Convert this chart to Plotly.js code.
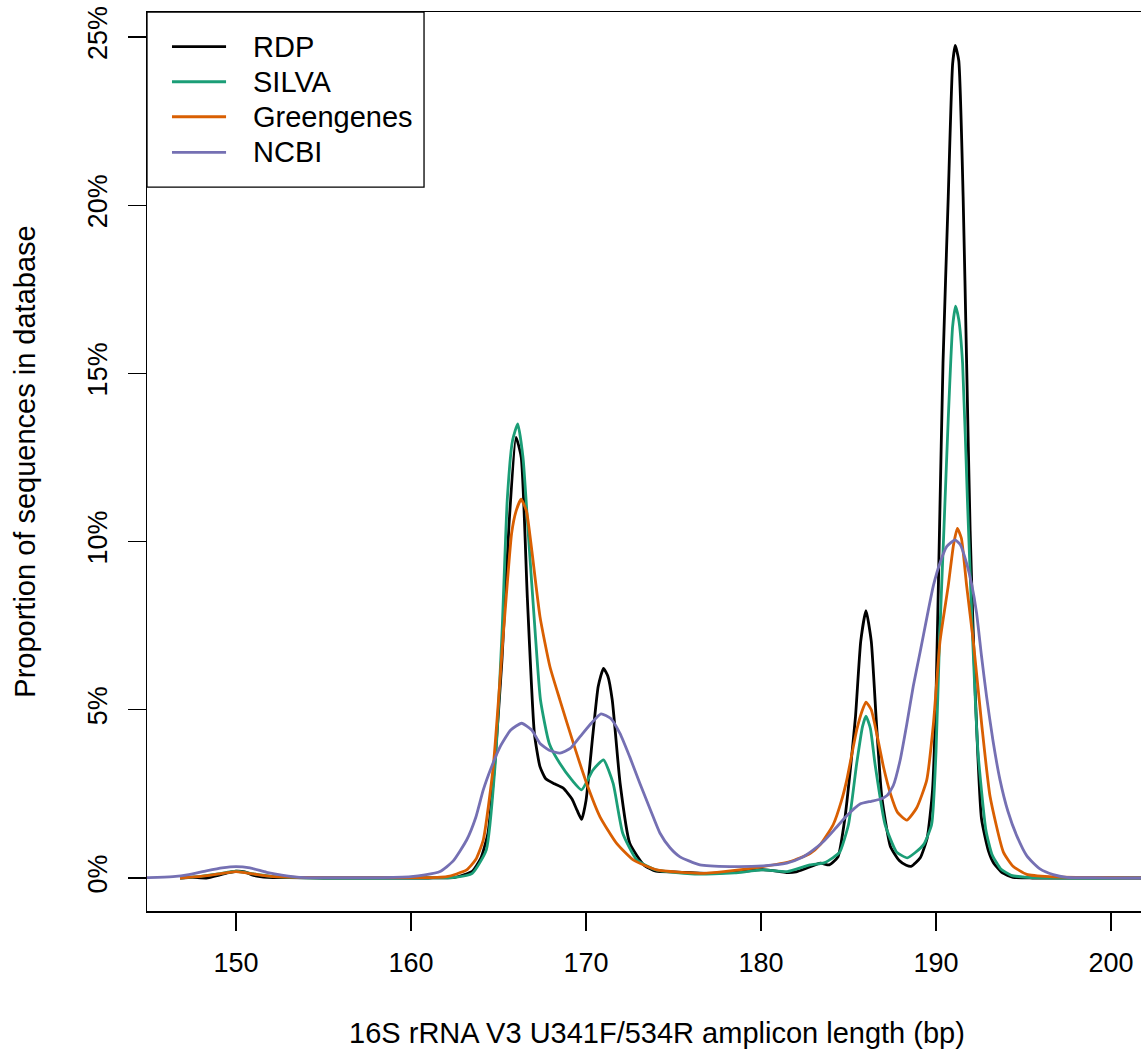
<!DOCTYPE html>
<html>
<head>
<meta charset="utf-8">
<script src="https://cdn.plot.ly/plotly-3.0.1.min.js"></script>
<style>
html, body { margin: 0; padding: 0; overflow: hidden; background: #fff; }
#chart { width: 1167px; height: 1051px; }
</style>
</head>
<body>
<div id="chart"></div>
<script>
// Series names and colours
const seriesNames = ["RDP", "SILVA", "Greengenes", "NCBI"];
const seriesColors = ["#000000", "#1B9E77", "#D95F02", "#7570B3"];

// Amplicon length (bp) and proportion (%)
const rdpX = [146.8,147.5,148.3,149,149.5,150,150.5,151,151.8,153,155,158,161,162.5,163.5,164,164.4,164.8,165.2,165.6,166.0,166.3,166.65,167.05,167.37,167.7,168.2,168.7,169.2,169.5,169.75,170.0,170.4,170.7,171.0,171.25,171.5,171.95,172.5,173.3,174,175,176,177,178,179,180,181,181.5,182,182.6,183.4,183.9,184.4,184.8,185.1,185.4,185.7,186.0,186.3,186.6,186.9,187.4,187.9,188.3,188.6,189.1,189.5,189.8,190.0,190.2,190.4,190.7,190.95,191.1,191.3,191.55,191.75,191.95,192.25,192.6,193.0,193.3,193.8,194.4,195.5,197,200,203];
const rdpY = [0,0.02,0.0,0.08,0.15,0.2,0.18,0.08,0.02,0.01,0,0,0,0.02,0.2,0.6,1.34,3.5,6.5,10.5,13.1,12.5,8.3,4.3,3.31,2.95,2.8,2.67,2.35,2.0,1.74,2.3,4.3,5.7,6.23,6.0,5.29,2.81,1.03,0.39,0.2,0.18,0.16,0.14,0.16,0.2,0.25,0.2,0.16,0.18,0.29,0.44,0.39,0.63,1.8,3.2,4.8,7.04,7.95,7.04,4.57,2.42,0.93,0.52,0.38,0.35,0.6,1.2,2.6,5.39,10.34,15.3,20.25,24.2,24.75,24.3,20.25,15.3,10.34,5.39,1.76,0.8,0.44,0.15,0.02,0.0,0,0,0];

const silvaX = [146.8,148,149,150,151,152,153,155,158,161,162.5,163.5,164.3,164.8,165.2,165.5,165.8,166.1,166.4,166.7,167.1,167.4,167.9,168.5,169.2,169.75,170.4,171.0,171.55,172.1,172.9,174,176,177.3,178.5,180.1,181.5,182.8,183.6,184.1,184.5,185.0,185.47,185.8,186.0,186.25,186.51,187.09,187.75,188.36,188.8,189.3,189.75,190.0,190.2,190.45,190.7,190.95,191.12,191.3,191.52,191.8,192.1,192.4,192.85,193.2,193.7,194.3,195.2,197,200,203];
const silvaY = [0,0.05,0.12,0.2,0.12,0.05,0.02,0,0,0,0.02,0.14,0.83,3.31,7.27,11.24,13.0,13.5,12.5,10.25,7.27,5.29,4.0,3.41,2.91,2.62,3.21,3.51,2.81,1.33,0.54,0.24,0.12,0.12,0.15,0.24,0.19,0.39,0.45,0.6,0.77,1.59,3.41,4.5,4.81,4.45,3.41,1.59,0.77,0.6,0.75,1.0,1.59,3.74,7.04,10.34,13.65,16.4,17.0,16.6,15.3,11.17,7.04,3.74,1.43,0.7,0.27,0.08,0.02,0,0,0];

const ggX = [146.8,148,149,150,151,152,154,157,160,161.5,162.04,162.6,163.18,163.7,164.13,164.7,165.28,165.75,166.0,166.29,166.6,166.9,167.37,167.94,168.51,169.28,170.04,170.8,171.75,172.7,174.04,176.5,178,180.1,181.66,182.8,183.4,184.13,184.6,184.9,185.47,185.8,186.0,186.3,186.61,187.0,187.4,187.8,188.33,188.9,189.47,189.85,190.23,190.7,191.0,191.22,191.45,191.75,192.13,192.61,193.09,193.85,194.4,195.18,196.5,198,200,203];
const ggY = [0,0.05,0.12,0.19,0.12,0.05,0.02,0.01,0.01,0.02,0.04,0.12,0.24,0.55,1.13,3.31,7.27,10.25,10.9,11.26,10.9,9.75,7.77,6.28,5.29,4.0,2.81,1.82,1.03,0.54,0.24,0.14,0.2,0.34,0.49,0.73,1.0,1.59,2.3,2.91,4.4,5.0,5.23,5.0,4.3,3.3,2.5,1.95,1.72,2.09,2.91,4.57,7.04,8.69,9.9,10.39,10.1,8.69,7.04,4.57,2.42,0.77,0.35,0.11,0.04,0.02,0.01,0];

const ncbiX = [144,145,146.4,147.3,148.3,149.2,150.0,150.8,151.75,152.7,153.66,155,158,160,160.8,161.66,162.4,163.18,163.7,164.13,164.6,165.09,165.7,166.32,166.9,167.37,167.9,168.51,169.1,169.66,170.3,170.86,171.4,171.94,172.5,173.08,173.7,174.23,174.8,175.37,176.51,178.23,180.13,181.47,182.3,182.9,183.6,184.3,184.9,185.66,186.3,186.8,187.2,187.56,187.95,188.33,188.7,189.09,189.5,189.85,190.25,190.61,191.09,191.4,191.75,192.05,192.32,192.6,192.89,193.25,193.66,194.1,194.61,195.2,195.94,196.7,197.47,199,201,203];
const ncbiY = [0,0.01,0.04,0.1,0.21,0.3,0.34,0.3,0.17,0.08,0.02,0.01,0.01,0.04,0.09,0.19,0.5,1.13,1.8,2.62,3.3,3.9,4.4,4.6,4.4,4.0,3.8,3.71,3.85,4.2,4.6,4.88,4.75,4.3,3.6,2.81,2.0,1.33,0.9,0.63,0.39,0.34,0.36,0.44,0.6,0.8,1.1,1.5,1.85,2.2,2.28,2.34,2.45,2.75,3.5,4.57,5.7,6.71,7.8,8.69,9.4,9.85,10.05,9.9,9.35,8.7,7.87,6.6,5.39,4.1,2.91,2.0,1.26,0.65,0.27,0.1,0.02,0.01,0,0];

// Axis ticks
const xTicks = [150, 160, 170, 180, 190, 200];
const yTicks = [0, 5, 10, 15, 20, 25];
const yTickLabels = ["0%", "5%", "10%", "15%", "20%", "25%"];

const xs = [rdpX, silvaX, ggX, ncbiX];
const ys = [rdpY, silvaY, ggY, ncbiY];

const FONT = "Liberation Sans, Arial, Helvetica, sans-serif";

const traces = seriesNames.map((name, i) => ({
  type: "scatter",
  mode: "lines",
  name: name,
  x: xs[i],
  y: ys[i],
  line: { color: seriesColors[i], width: 2.8, shape: "spline", smoothing: 0.5 },
  showlegend: false,
  hoverinfo: "x+y+name"
}));

// Hand-built legend box (R-style)
const legRowsY = [0.9614, 0.9224, 0.8835, 0.8439];
const shapes = [{
  type: "rect", xref: "paper", yref: "paper",
  x0: 0, x1: 0.2716, y0: 0.8053, y1: 1,
  line: { color: "#000", width: 1.3 }, fillcolor: "rgba(255,255,255,0)"
}];
const annotations = [];
seriesNames.forEach((name, i) => {
  shapes.push({
    type: "line", xref: "paper", yref: "paper",
    x0: 0.0245, x1: 0.0775, y0: legRowsY[i], y1: legRowsY[i],
    line: { color: seriesColors[i], width: 2.8 }
  });
  annotations.push({
    xref: "paper", yref: "paper", x: 0.1015, y: legRowsY[i],
    xanchor: "left", yanchor: "middle", showarrow: false,
    text: name, font: { family: FONT, size: 29, color: "#000" }
  });
});

const layout = {
  width: 1167, height: 1051,
  margin: { l: 147, r: 0, t: 12, b: 140 },
  paper_bgcolor: "#fff", plot_bgcolor: "#fff",
  font: { family: FONT, color: "#000" },
  showlegend: false,
  xaxis: {
    range: [144.914, 203.2],
    tickvals: xTicks,
    ticks: "outside", ticklen: 18, tickwidth: 1.3, tickcolor: "#000",
    tickfont: { family: FONT, size: 27, color: "#000" },
    ticklabelstandoff: 9,
    showline: true, linecolor: "#000", linewidth: 1.5, mirror: true,
    showgrid: false, zeroline: false,
    automargin: false,
    title: { text: "16S rRNA V3 U341F/534R amplicon length (bp)", font: { family: FONT, size: 29, color: "#000" }, standoff: 46 }
  },
  yaxis: {
    range: [-0.981, 25.743],
    tickvals: yTicks, ticktext: yTickLabels,
    tickangle: -90,
    ticks: "outside", ticklen: 18, tickwidth: 1.3, tickcolor: "#000",
    tickfont: { family: FONT, size: 27, color: "#000" },
    ticklabelstandoff: 10,
    showline: true, linecolor: "#000", linewidth: 1.5, mirror: true,
    showgrid: false, zeroline: false,
    automargin: false,
    title: { text: "Proportion of sequences in database", font: { family: FONT, size: 29, color: "#000" }, standoff: 38 }
  },
  shapes: shapes,
  annotations: annotations
};

Plotly.newPlot("chart", traces, layout, { displayModeBar: false, staticPlot: true });
</script>
</body>
</html>
